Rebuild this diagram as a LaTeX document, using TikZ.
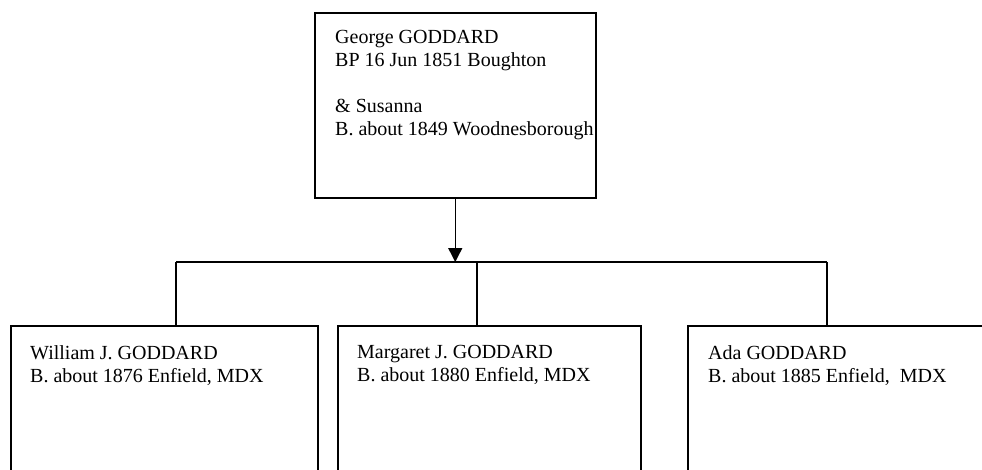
\documentclass[tikz,border=0pt]{standalone}
\usepackage{fontspec}
\setmainfont{Liberation Serif}
\usetikzlibrary{arrows.meta}
\begin{document}
\begin{tikzpicture}[x=1pt,y=-1pt,
  box/.style={draw, line width=1.5pt, rectangle, anchor=north west, inner sep=0pt},
  txt/.style={anchor=north west, align=left, inner sep=0pt, font=\fontsize{20}{23}\selectfont},
  conn/.style={line width=1.4pt}]
\useasboundingbox (0,0) rectangle (982,469);
\clip (0,0) rectangle (982,469);
% boxes
\node[box, minimum width=281pt, minimum height=185pt] (p) at (314,12) {};
\node[box, minimum width=307pt, minimum height=170pt] (c1) at (10,325) {};
\node[box, minimum width=303pt, minimum height=170pt] (c2) at (337,325) {};
\node[box, minimum width=310pt, minimum height=170pt] (c3) at (687,325) {};
% texts
\node[txt] (tp) at (335,30) {George GODDARD\\BP 16 Jun 1851 Boughton\\[23pt]\& Susanna\\B. about 1849 Woodnesborough};
\node[txt] (t1) at (30,345) {William J. GODDARD\\B. about 1876 Enfield, MDX};
\node[txt] (t2) at (357,345) {Margaret J. GODDARD\\B. about 1880 Enfield, MDX};
\node[txt] (t3) at (708,345) {Ada GODDARD\\B. about 1885 Enfield,\ \ MDX};
% connectors
\coordinate (bus) at (0,262);
\coordinate (k1) at (176,262);
\coordinate (k2) at (477,262);
\coordinate (k3) at (827,262);
\draw[conn,-{Triangle[width=14pt,length=14pt]}] (p.south) -- (p.south |- bus);
\draw[conn] (k1) -- (k3);
\draw[conn] (k1) -- (k1 |- c1.north);
\draw[conn] (k2) -- (k2 |- c2.north);
\draw[conn] (k3) -- (k3 |- c3.north);
\end{tikzpicture}
\end{document}
